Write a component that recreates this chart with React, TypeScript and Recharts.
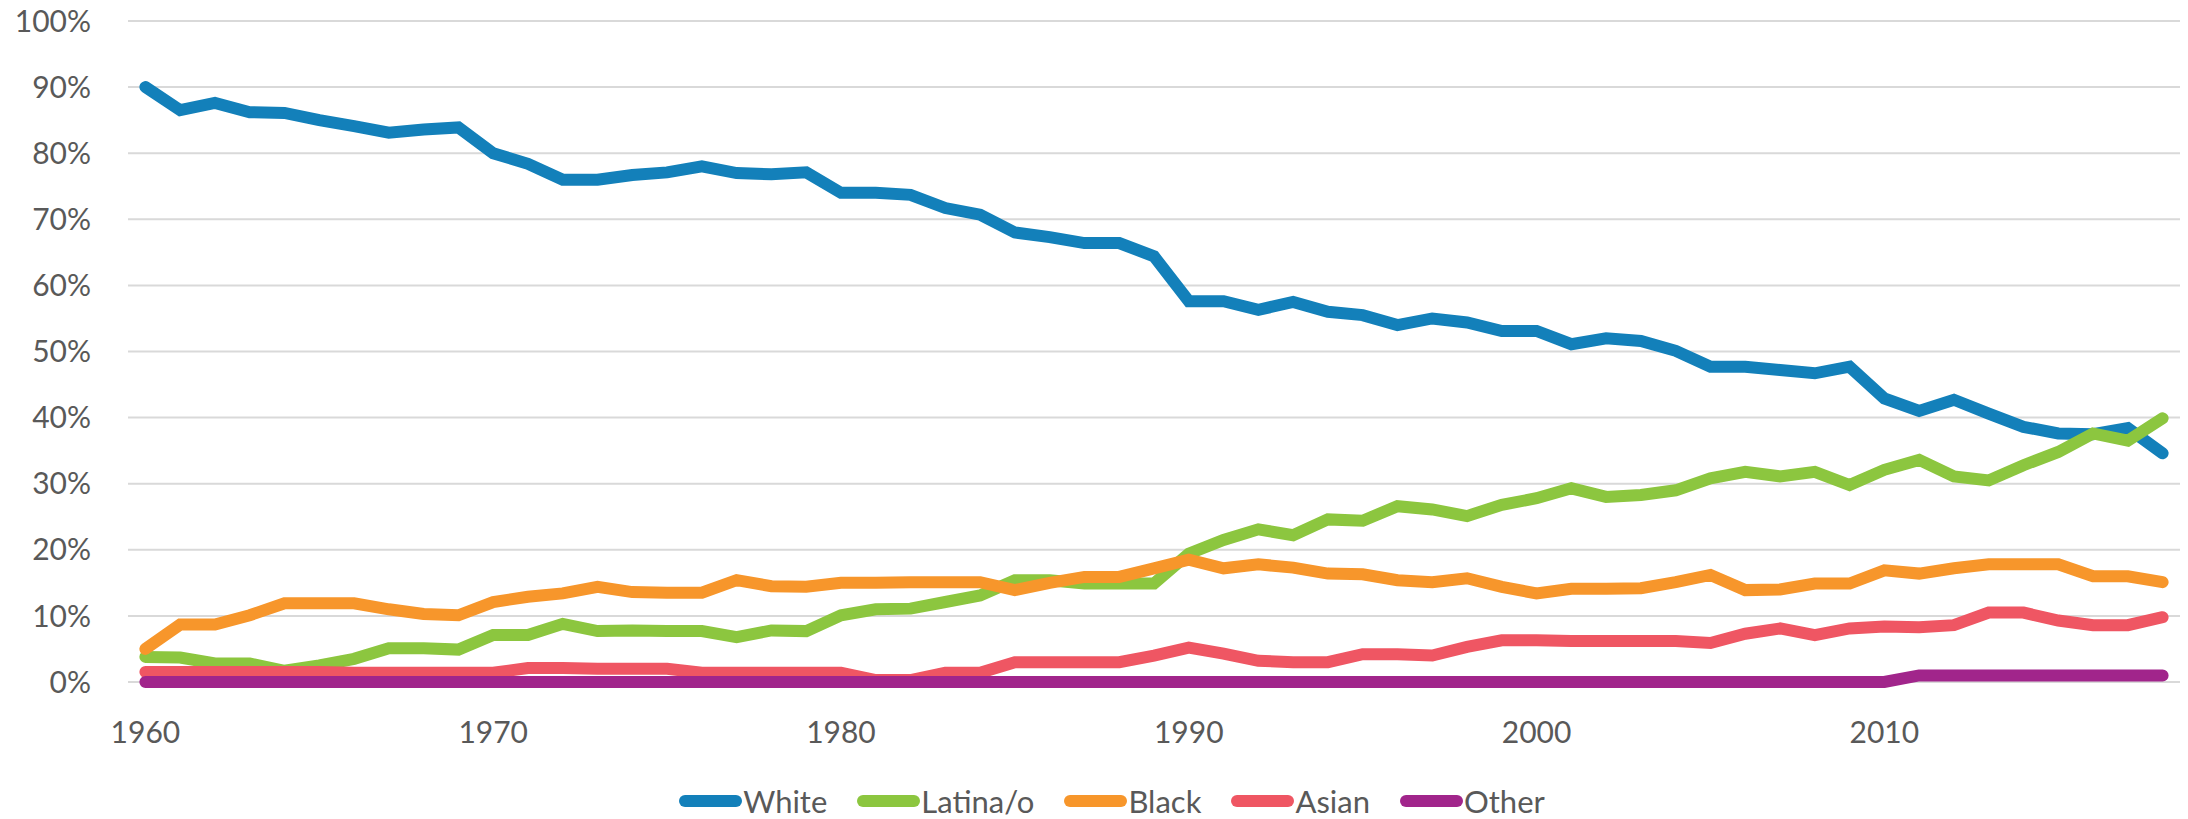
import React from 'react';
import { LineChart, Line, XAxis, YAxis, CartesianGrid, Legend } from 'recharts';

const years = [
  1960, 1961, 1962, 1963, 1964, 1965, 1966, 1967, 1968, 1969,
  1970, 1971, 1972, 1973, 1974, 1975, 1976, 1977, 1978, 1979,
  1980, 1981, 1982, 1983, 1984, 1985, 1986, 1987, 1988, 1989,
  1990, 1991, 1992, 1993, 1994, 1995, 1996, 1997, 1998, 1999,
  2000, 2001, 2002, 2003, 2004, 2005, 2006, 2007, 2008, 2009,
  2010, 2011, 2012, 2013, 2014, 2015, 2016, 2017, 2018,
];

const white = [
  90.0, 86.5, 87.6, 86.2, 86.1, 85.0, 84.1, 83.1, 83.6, 83.9,
  80.0, 78.4, 76.0, 76.0, 76.7, 77.1, 78.0, 77.0, 76.8, 77.1,
  74.0, 74.0, 73.7, 71.7, 70.7, 68.0, 67.3, 66.4, 66.4, 64.4,
  57.6, 57.6, 56.3, 57.5, 56.0, 55.5, 54.0, 55.0, 54.4, 53.1,
  53.1, 51.1, 52.0, 51.6, 50.1, 47.7, 47.7, 47.2, 46.7, 47.7,
  42.9, 41.0, 42.7, 40.6, 38.6, 37.6, 37.5, 38.4, 34.6,
];

const latina = [
  3.8, 3.7, 2.8, 2.8, 1.7, 2.5, 3.5, 5.1, 5.1, 4.9,
  7.1, 7.1, 8.8, 7.7, 7.8, 7.7, 7.7, 6.8, 7.8, 7.7,
  10.1, 11.0, 11.1, 12.1, 13.1, 15.4, 15.4, 14.9, 14.9, 14.9,
  19.4, 21.5, 23.1, 22.2, 24.6, 24.4, 26.6, 26.1, 25.1, 26.8,
  27.8, 29.3, 28.0, 28.3, 29.0, 30.8, 31.8, 31.1, 31.8, 29.8,
  32.1, 33.6, 31.1, 30.5, 32.8, 34.8, 37.6, 36.5, 39.9,
];

const black = [
  5.0, 8.7, 8.7, 10.1, 11.9, 11.9, 11.9, 11.0, 10.3, 10.1,
  12.1, 12.9, 13.4, 14.4, 13.6, 13.5, 13.5, 15.4, 14.5, 14.4,
  15.0, 15.0, 15.1, 15.1, 15.1, 13.9, 15.0, 15.9, 15.9, 17.2,
  18.5, 17.2, 17.8, 17.3, 16.4, 16.3, 15.4, 15.1, 15.7, 14.4,
  13.4, 14.1, 14.1, 14.2, 15.1, 16.2, 13.9, 14.0, 14.9, 14.9,
  16.9, 16.4, 17.2, 17.8, 17.8, 17.8, 16.0, 16.0, 15.1,
];

const asian = [
  1.5, 1.5, 1.5, 1.5, 1.5, 1.5, 1.4, 1.4, 1.4, 1.4,
  1.4, 2.1, 2.1, 2.0, 2.0, 2.0, 1.4, 1.4, 1.4, 1.4,
  1.4, 0.3, 0.3, 1.4, 1.4, 3.0, 3.0, 3.0, 3.0, 4.0,
  5.2, 4.3, 3.2, 3.0, 3.0, 4.2, 4.2, 4.0, 5.3, 6.3,
  6.3, 6.2, 6.2, 6.2, 6.2, 5.9, 7.3, 8.1, 7.1, 8.1,
  8.4, 8.3, 8.6, 10.5, 10.5, 9.3, 8.6, 8.6, 9.8,
];

const other = [
  0, 0, 0, 0, 0, 0, 0, 0, 0, 0,
  0, 0, 0, 0, 0, 0, 0, 0, 0, 0,
  0, 0, 0, 0, 0, 0, 0, 0, 0, 0,
  0, 0, 0, 0, 0, 0, 0, 0, 0, 0,
  0, 0, 0, 0, 0, 0, 0, 0, 0, 0,
  0, 1.0, 1.0, 1.0, 1.0, 1.0, 1.0, 1.0, 1.0,
];

const xTicks = [1960, 1970, 1980, 1990, 2000, 2010];
const yTicks = [0, 10, 20, 30, 40, 50, 60, 70, 80, 90, 100];

const seriesNames = ['White', 'Latina/o', 'Black', 'Asian', 'Other'];
const seriesKeys = ['white', 'latina', 'black', 'asian', 'other'];
const seriesColors = ['#1380ba', '#8cc63f', '#f7962b', '#ef5663', '#a1258b'];

const data = years.map((y, i) => ({
  year: y,
  white: white[i],
  latina: latina[i],
  black: black[i],
  asian: asian[i],
  other: other[i],
}));

const FONT = 'Lato, "Liberation Sans", sans-serif';
const TEXT = '#595959';

const LegendContent = () => (
  <div
    style={{
      display: 'flex',
      justifyContent: 'center',
      alignItems: 'center',
      height: 36,
      paddingLeft: 66,
      boxSizing: 'border-box',
      fontFamily: FONT,
      fontSize: 31,
      color: TEXT,
      lineHeight: '36px',
    }}
  >
    {seriesNames.map((n, i) => (
      <div key={n} style={{ display: 'flex', alignItems: 'center', marginRight: 30 }}>
        <svg width={63} height={16} style={{ display: 'block' }}>
          <line x1={6} y1={8} x2={57} y2={8} stroke={seriesColors[i]} strokeWidth={12} strokeLinecap="round" />
        </svg>
        <span style={{ marginLeft: 1 }}>{n}</span>
      </div>
    ))}
  </div>
);

export default function App() {
  return (
    <div style={{ position: 'absolute', left: 0, top: 0, width: 2188, height: 819, background: '#fff', fontFamily: FONT }}>
      <LineChart width={2188} height={819} data={data} margin={{ top: 21, right: 8, bottom: 0, left: 0 }}>
        <CartesianGrid vertical={false} stroke="#d9d9d9" strokeWidth={2} />
        <XAxis
          dataKey="year"
          type="number"
          domain={[1959.5, 2018.5]}
          ticks={xTicks}
          interval={0}
          height={101}
          tickSize={0}
          tickMargin={40}
          axisLine={false}
          tickLine={false}
          tick={{ fill: TEXT, fontSize: 30, fontFamily: FONT }}
        />
        <YAxis
          domain={[0, 100]}
          ticks={yTicks}
          width={128}
          interval={0}
          tickSize={0}
          tickMargin={37}
          axisLine={false}
          tickLine={false}
          tickFormatter={(v: number) => `${v}%`}
          tick={{ fill: TEXT, fontSize: 30, fontFamily: FONT }}
        />
        <Legend verticalAlign="bottom" height={36} content={<LegendContent />} wrapperStyle={{ left: 0, width: 2188 }} />
        {seriesKeys.map((k, i) => (
          <Line
            key={k}
            type="linear"
            dataKey={k}
            name={seriesNames[i]}
            stroke={seriesColors[i]}
            strokeWidth={12}
            strokeLinecap="round"
            dot={false}
            activeDot={false}
            isAnimationActive={false}
          />
        ))}
      </LineChart>
    </div>
  );
}
